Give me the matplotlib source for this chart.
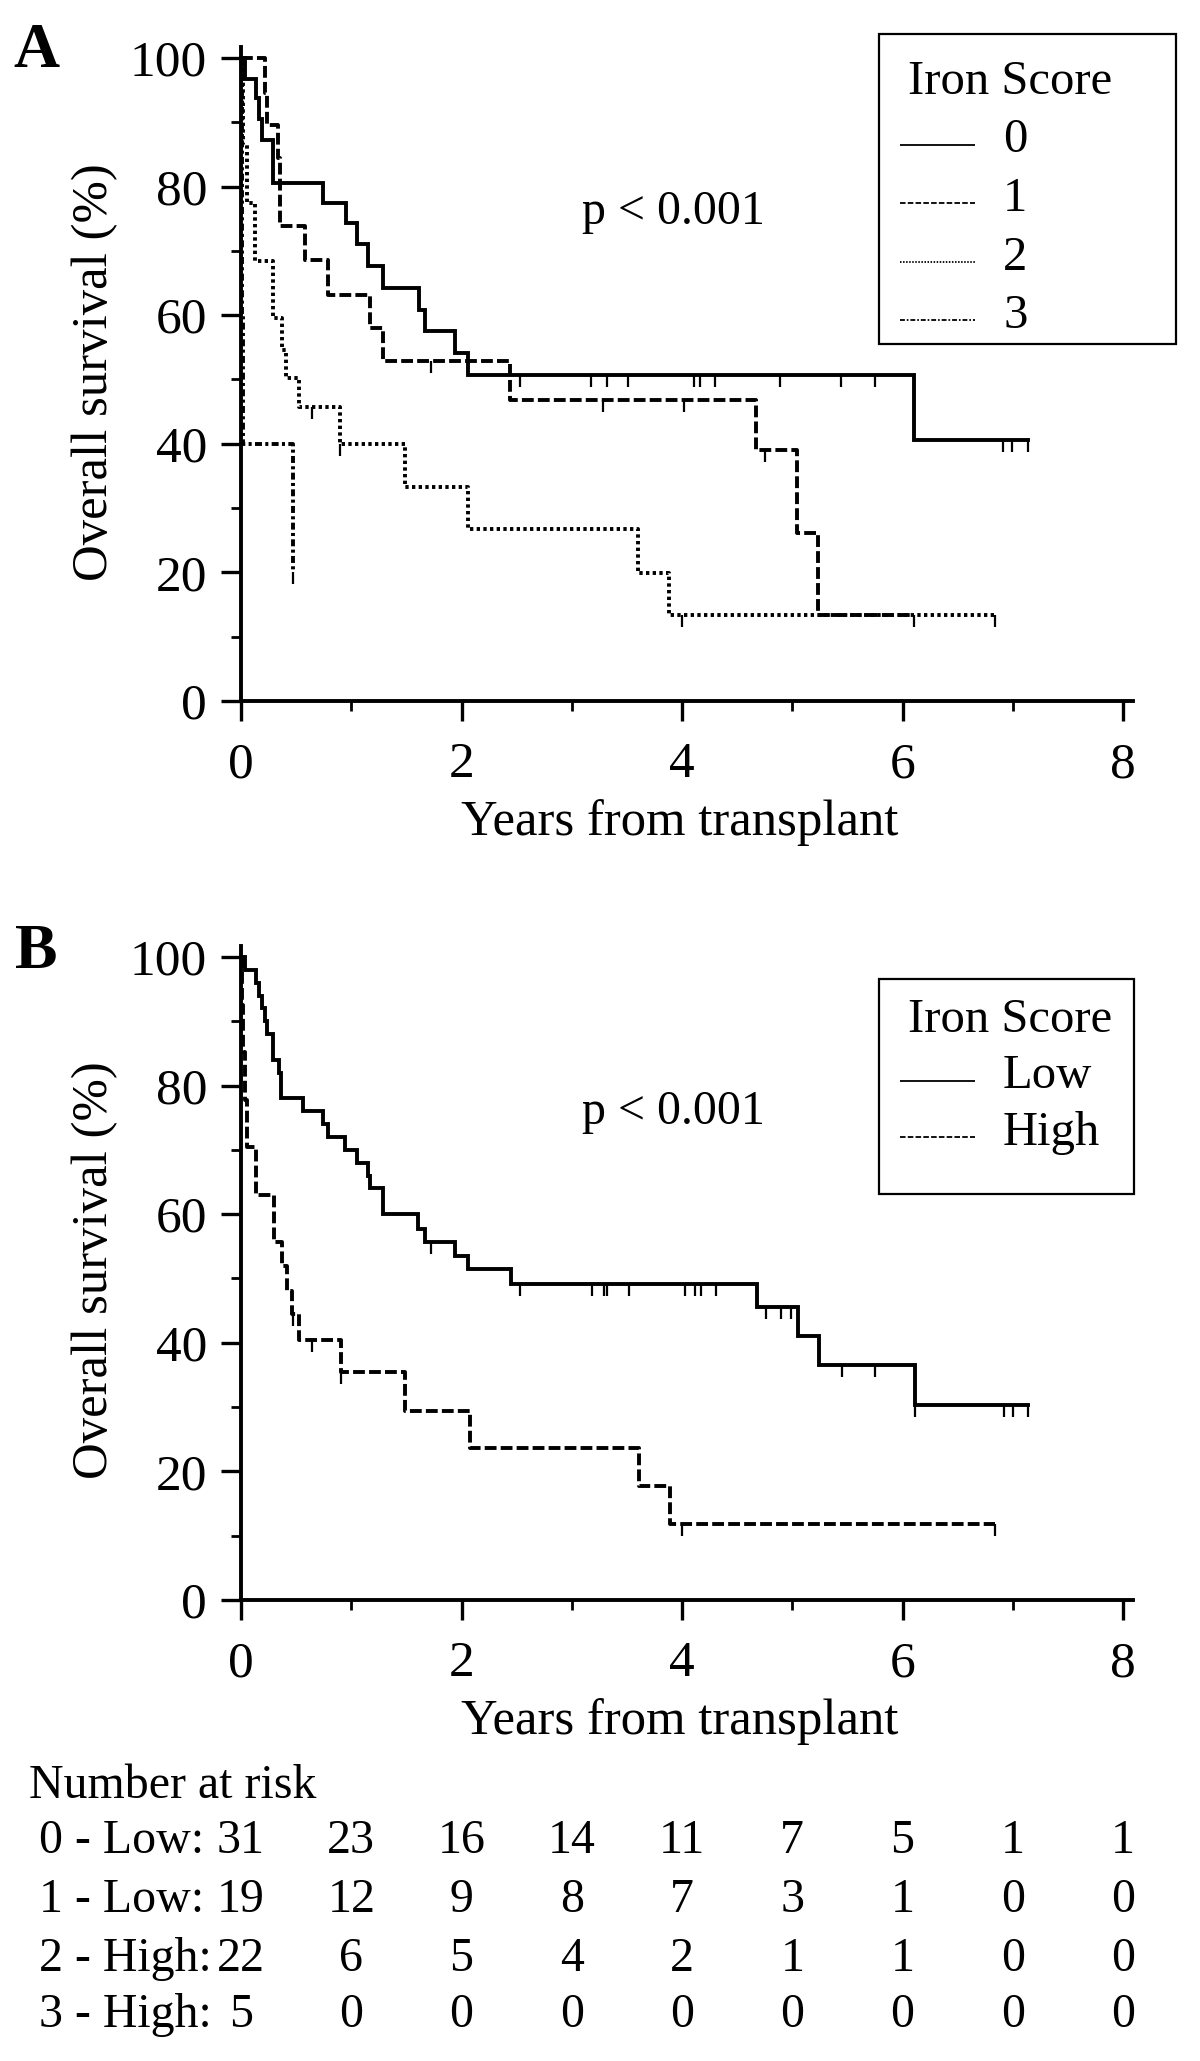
import numpy as np
import matplotlib
matplotlib.use("Agg")
import matplotlib.pyplot as plt
import matplotlib.transforms as mtransforms
from matplotlib.lines import Line2D
from matplotlib.patches import Rectangle

plt.rcParams['font.family'] = ['Liberation Serif', 'DejaVu Serif']
plt.rcParams['lines.scale_dashes'] = False

# ---------------- data ----------------
# Panel A: iron score groups 0..3 (time in years, survival in %)
time_a0 = [0, 0.036, 0.136, 0.166, 0.187, 0.29, 0.74, 0.95, 1.048, 1.153, 1.29, 1.61, 1.667, 1.94, 2.06, 6.10]
surv_a0 = [100, 96.8, 93.7, 90.5, 87.3, 80.6, 77.5, 74.3, 71.0, 67.6, 64.2, 60.8, 57.5, 54.1, 50.7, 40.6]
cens_a0 = [2.53, 3.17, 3.32, 3.51, 4.11, 4.16, 4.30, 4.89, 5.44, 5.75, 6.91, 6.99, 7.14]
end_a0 = 7.14

time_a1 = [0, 0.217, 0.233, 0.34, 0.355, 0.58, 0.785, 1.168, 1.289, 2.44, 4.67, 5.04, 5.23]
surv_a1 = [100, 94.5, 89.6, 84.4, 73.8, 68.6, 63.2, 58.0, 52.8, 46.8, 39.0, 26.2, 13.3]
cens_a1 = [1.72, 3.28, 4.02, 4.75, 6.10]
end_a1 = 6.10

time_a2 = [0, 0.02, 0.05, 0.127, 0.29, 0.37, 0.41, 0.525, 0.90, 1.485, 2.06, 3.60, 3.886]
surv_a2 = [100, 86.4, 77.5, 68.4, 59.5, 54.6, 50.2, 45.7, 40.0, 33.3, 26.7, 19.9, 13.4]
cens_a2 = [0.64, 0.90, 4.0, 6.84]
end_a2 = 6.84

time_a3 = [0, 0.005, 0.01, 0.015, 0.468]
surv_a3 = [100, 80, 60, 40, 20]
cens_a3 = [0.468]
end_a3 = 0.468

# Panel B: low vs high iron score
time_low = [0, 0.036, 0.136, 0.166, 0.187, 0.217, 0.233, 0.29, 0.347, 0.36, 0.565, 0.745, 0.79,
            0.942, 1.048, 1.153, 1.168, 1.289, 1.606, 1.667, 1.94, 2.06, 2.45, 4.676, 5.05, 5.24, 6.11]
surv_low = [100, 98, 96, 94, 92, 90, 88, 84, 82, 78, 76, 74, 72,
            70, 68, 66, 64, 60, 57.7, 55.6, 53.5, 51.4, 49.1, 45.6, 41.1, 36.6, 30.4]
cens_low = [1.72, 2.53, 3.18, 3.29, 3.32, 3.52, 4.03, 4.12, 4.17, 4.31, 4.76, 4.90, 4.99,
            5.45, 5.75, 6.11, 6.92, 7.00, 7.14]
end_low = 7.14

time_high = [0, 0.01, 0.02, 0.035, 0.05, 0.14, 0.30, 0.368, 0.413, 0.459, 0.528, 0.906,
             1.49, 2.08, 3.61, 3.89]
surv_high = [100, 92.6, 85.2, 77.8, 70.4, 63.0, 55.6, 51.9, 48.1, 44.4, 40.4, 35.4,
             29.4, 23.6, 17.8, 11.8]
cens_high = [0.47, 0.64, 0.906, 4.0, 6.84]
end_high = 6.84

legend_a = ['0', '1', '2', '3']
legend_b = ['Low', 'High']
p_text = 'p < 0.001'

risk_times = [0, 1, 2, 3, 4, 5, 6, 7, 8]
risk_labels = ['0 - Low:', '1 - Low:', '2 - High:', '3 - High:']
risk_0 = [31, 23, 16, 14, 11, 7, 5, 1, 1]
risk_1 = [19, 12, 9, 8, 7, 3, 1, 0, 0]
risk_2 = [22, 6, 5, 4, 2, 1, 1, 0, 0]
risk_3 = [5, 0, 0, 0, 0, 0, 0, 0, 0]

# ---------------- styles ----------------
W, H = 1200, 2061
LW = 2.8
styles = {
    'solid': dict(ls='-', leg=(0, ())),
    'dash': dict(ls=(0, (8.5, 3.0)), leg=(0, (4.0, 1.6))),
    'dot': dict(ls=(0, (2.4, 2.4)), leg=(0, (1.1, 1.1))),
    'dashdot': dict(ls=(0, (5.0, 2.4, 2.2, 2.4)), leg=(0, (3.5, 1.4, 1.2, 1.4))),
}
tick_marker = [(0, 0), (0, -1)]
FS = 34.5
FS_TICK = 37
FS_LAB = 36.5
FS_LEG = 35


def fx(px):
    return px / W


def fy(py):
    return 1 - py / H


fig = plt.figure(figsize=(W / 100, H / 100), dpi=100)

XMAX = 8.09
YMAX = 101.7


def make_axes(y0_px):
    ax = fig.add_axes([fx(241), fy(y0_px), 892 / W, 654 / H])
    ax.set_xlim(0, XMAX)
    ax.set_ylim(0, YMAX)
    for s in ['top', 'right']:
        ax.spines[s].set_visible(False)
    for s in ['left', 'bottom']:
        ax.spines[s].set_linewidth(2.8)
    ax.set_xticks([0, 2, 4, 6, 8])
    ax.set_xticks([1, 3, 5, 7], minor=True)
    ax.set_yticks([0, 20, 40, 60, 80, 100])
    ax.set_yticks([10, 30, 50, 70, 90], minor=True)
    ax.tick_params(which='major', direction='out', length=14.4, width=2.4, labelsize=FS_TICK)
    ax.tick_params(which='minor', direction='out', length=7.2, width=2.0)
    ax.tick_params(axis='x', which='major', pad=15)
    ax.tick_params(axis='y', which='major', pad=10)
    ax.patch.set_visible(False)
    return ax


def km(ax, t, s, cens, end, style):
    tt = list(t) + [end]
    ss = list(s) + [s[-1]]
    ax.step(tt, ss, where='post', color='black', lw=LW, ls=styles[style]['ls'],
            solid_joinstyle='miter', dash_capstyle='butt', clip_on=False)
    t_arr = np.asarray(t)
    s_arr = np.asarray(s)
    cy = [s_arr[np.searchsorted(t_arr, c, side='right') - 1] for c in cens]
    ax.plot(cens, cy, ls='none', marker=tick_marker, markersize=17, mew=1.6,
            mec='black', mfc='none', clip_on=False)


def legend_box(x0, y0, x1, y1, title, labels, style_keys, title_y, row_dy):
    fig.patches.append(Rectangle((fx(x0), fy(y1)), fx(x1) - fx(x0), fy(y0) - fy(y1),
                                 transform=fig.transFigure, fill=False, ec='black', lw=1.6))
    fig.text(fx(x0 + 29), fy(title_y), title, fontsize=FS_LEG, ha='left', va='center')
    for i, (lab, sk) in enumerate(zip(labels, style_keys)):
        yy = title_y + row_dy * (i + 1)
        fig.lines.append(Line2D([fx(900), fx(975)], [fy(yy + 4), fy(yy + 4)], transform=fig.transFigure,
                                color='black', lw=1.3, ls=styles[sk]['leg']))
        fig.text(fx(1003), fy(yy), lab, fontsize=FS_LEG, ha='left', va='center')


# ---------------- panel A ----------------
axA = make_axes(701)
km(axA, time_a0, surv_a0, cens_a0, end_a0, 'solid')
km(axA, time_a1, surv_a1, cens_a1, end_a1, 'dash')
km(axA, time_a2, surv_a2, cens_a2, end_a2, 'dot')
km(axA, time_a3, surv_a3, cens_a3, end_a3, 'dashdot')
fig.text(fx(673), fy(212), p_text, fontsize=FS, ha='center', va='center')
fig.text(fx(95), fy(372), 'Overall survival (%)', fontsize=FS_LAB, rotation=90, ha='center', va='center')
fig.text(fx(680), fy(823), 'Years from transplant', fontsize=FS_LAB, ha='center', va='center')
fig.text(fx(36), fy(52), 'A', fontsize=46, fontweight='bold', ha='center', va='center')
legend_box(879, 34, 1176, 344, 'Iron Score', legend_a, ['solid', 'dash', 'dot', 'dashdot'], 82, 58.5)

# ---------------- panel B ----------------
axB = make_axes(1600)
km(axB, time_low, surv_low, cens_low, end_low, 'solid')
km(axB, time_high, surv_high, cens_high, end_high, 'dash')
fig.text(fx(673), fy(1112), p_text, fontsize=FS, ha='center', va='center')
fig.text(fx(95), fy(1270), 'Overall survival (%)', fontsize=FS_LAB, rotation=90, ha='center', va='center')
fig.text(fx(680), fy(1722), 'Years from transplant', fontsize=FS_LAB, ha='center', va='center')
fig.text(fx(36), fy(953), 'B', fontsize=46, fontweight='bold', ha='center', va='center')
legend_box(879, 979, 1134, 1194, 'Iron Score', legend_b, ['solid', 'dash'], 1020, 56.5)

# ---------------- number at risk ----------------
fig.text(fx(29), fy(1786), 'Number at risk', fontsize=FS, ha='left', va='center')
blend = mtransforms.blended_transform_factory(axB.transData, fig.transFigure)
row_y = [1841, 1900, 1959, 2015]
for lab, counts, ry in zip(risk_labels, [risk_0, risk_1, risk_2, risk_3], row_y):
    fig.text(fx(39), fy(ry), lab, fontsize=FS, ha='left', va='center')
    for t, n in zip(risk_times, counts):
        fig.text(t, fy(ry), str(n), fontsize=FS, ha='center', va='center', transform=blend)

fig.savefig('out.png', dpi=100, facecolor='white')
